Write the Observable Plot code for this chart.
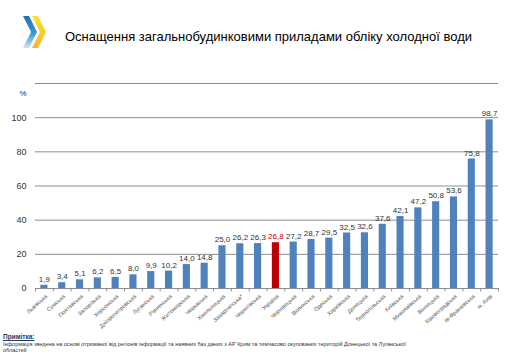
<!DOCTYPE html>
<html><head><meta charset="utf-8">
<script src="https://cdn.jsdelivr.net/npm/d3@7"></script>
<script src="https://cdn.jsdelivr.net/npm/@observablehq/plot@0.6"></script>
<style>
body{margin:0;background:#fff;font-family:"Liberation Sans",Arial,sans-serif;}
#wrap{position:relative;width:520px;height:360px;overflow:hidden;}
#title{position:absolute;left:65px;top:29px;font-size:13px;color:#000;white-space:nowrap;}
#chart{position:absolute;left:0;top:60px;}
#note{position:absolute;left:3px;top:334px;font-size:5.5px;color:#333;line-height:6.5px;}
#note b{color:#1f3a60;text-decoration:underline;font-size:6.5px;}
#logo{position:absolute;left:0;top:0;}
</style></head><body>
<div id="wrap">
<svg id="logo" width="60" height="60">
<defs>
<linearGradient id="bg" x1="0" y1="0" x2="0" y2="1"><stop offset="0" stop-color="#1f6fb4"/><stop offset="0.55" stop-color="#3b9ad6"/><stop offset="1" stop-color="#cfe6f4"/></linearGradient>
<linearGradient id="yg" x1="0" y1="0" x2="0" y2="1"><stop offset="0" stop-color="#f7e234"/><stop offset="1" stop-color="#f2b928"/></linearGradient>
</defs>
<polygon points="23,16 29,16 37,32 29,48 23,48 31,32" fill="url(#bg)"/>
<polygon points="32,16 38,16 46,32 38,48 32,48 40,32" fill="url(#yg)"/>
</svg>
<div id="title">Оснащення загальнобудинковими приладами обліку холодної води</div>
<div id="chart"></div>
<div id="note"><b>Примітка:</b><br>Інформація зведена на основі отриманої від регіонів інформації та наявних баз даних з АР Крим та тимчасово окупованих територій Донецької та Луганської<br>областей</div>
</div>
<script>
const regions = ["Львівська","Сумська","Полтавська","Запорізька","Херсонська","Дніпропетровська","Луганська","Рівненська","Житомирська","Черкаська","Хмельницька","Закарпатська*","Чернігівська","Україна","Чернівецька","Волинська","Одеська","Харківська","Донецька","Тернопільська","Київська","Миколаївська","Вінницька","Кіровоградська","Ів-Франківська","м. Київ"];
const values = [1.9,3.4,5.1,6.2,6.5,8.0,9.9,10.2,14.0,14.8,25.0,26.2,26.3,26.8,27.2,28.7,29.5,32.5,32.6,37.6,42.1,47.2,50.8,53.6,75.8,98.7];
const highlight = "Україна";
const yTicks = [0,20,40,60,80,100];
const gridLines = [0,20,40,60,80,100,120];

const data = regions.map((r,i)=>({region:r, value:values[i]}));
const fmt = v => v.toFixed(1).replace(".", ",");
const W = 520, ML = 35, MR = 22;
const step = (W - ML - MR) / regions.length;

const chart = Plot.plot({
  width: W, height: 273,
  marginLeft: ML, marginRight: MR, marginTop: 23, marginBottom: 45,
  style:{fontFamily:"'Liberation Sans', Arial, sans-serif", background:"transparent"},
  x:{domain: regions, paddingInner:0.6, paddingOuter:0.3, round:false, label:null},
  y:{domain:[0,120], label:null},
  marks:[
    Plot.ruleY(gridLines, {stroke:"#8c8c8c", strokeWidth:1}),
    Plot.ruleX(regions, {x:d=>d, y1:0, y2:-2, dx:-step/2, stroke:"#8c8c8c"}),
    Plot.ruleX([regions[regions.length-1]], {x:d=>d, y1:0, y2:-2, dx:step/2, stroke:"#8c8c8c"}),
    Plot.barY(data, {x:"region", y:"value", fill:d=>d.region===highlight?"#c00000":"#4f81bd"}),
    Plot.text(data, {x:"region", y:"value", text:d=>fmt(d.value), dy:-6, fontSize:8,
      fill:d=>d.region===highlight?"#c00000":"#333"}),
    Plot.axisY(yTicks, {tickSize:0, tickPadding:9, fontSize:9, fill:"#333", label:null}),
    Plot.text(["%"], {frameAnchor:"top-left", dx:-16, dy:7, fontSize:8, fill:"#333"}),
    Plot.axisX({tickSize:0, tickRotate:-42, tickPadding:7, dx:2, fontSize:5.7, fill:"#555", label:null})
  ]
});
document.getElementById("chart").appendChild(chart);
</script>
</body></html>
